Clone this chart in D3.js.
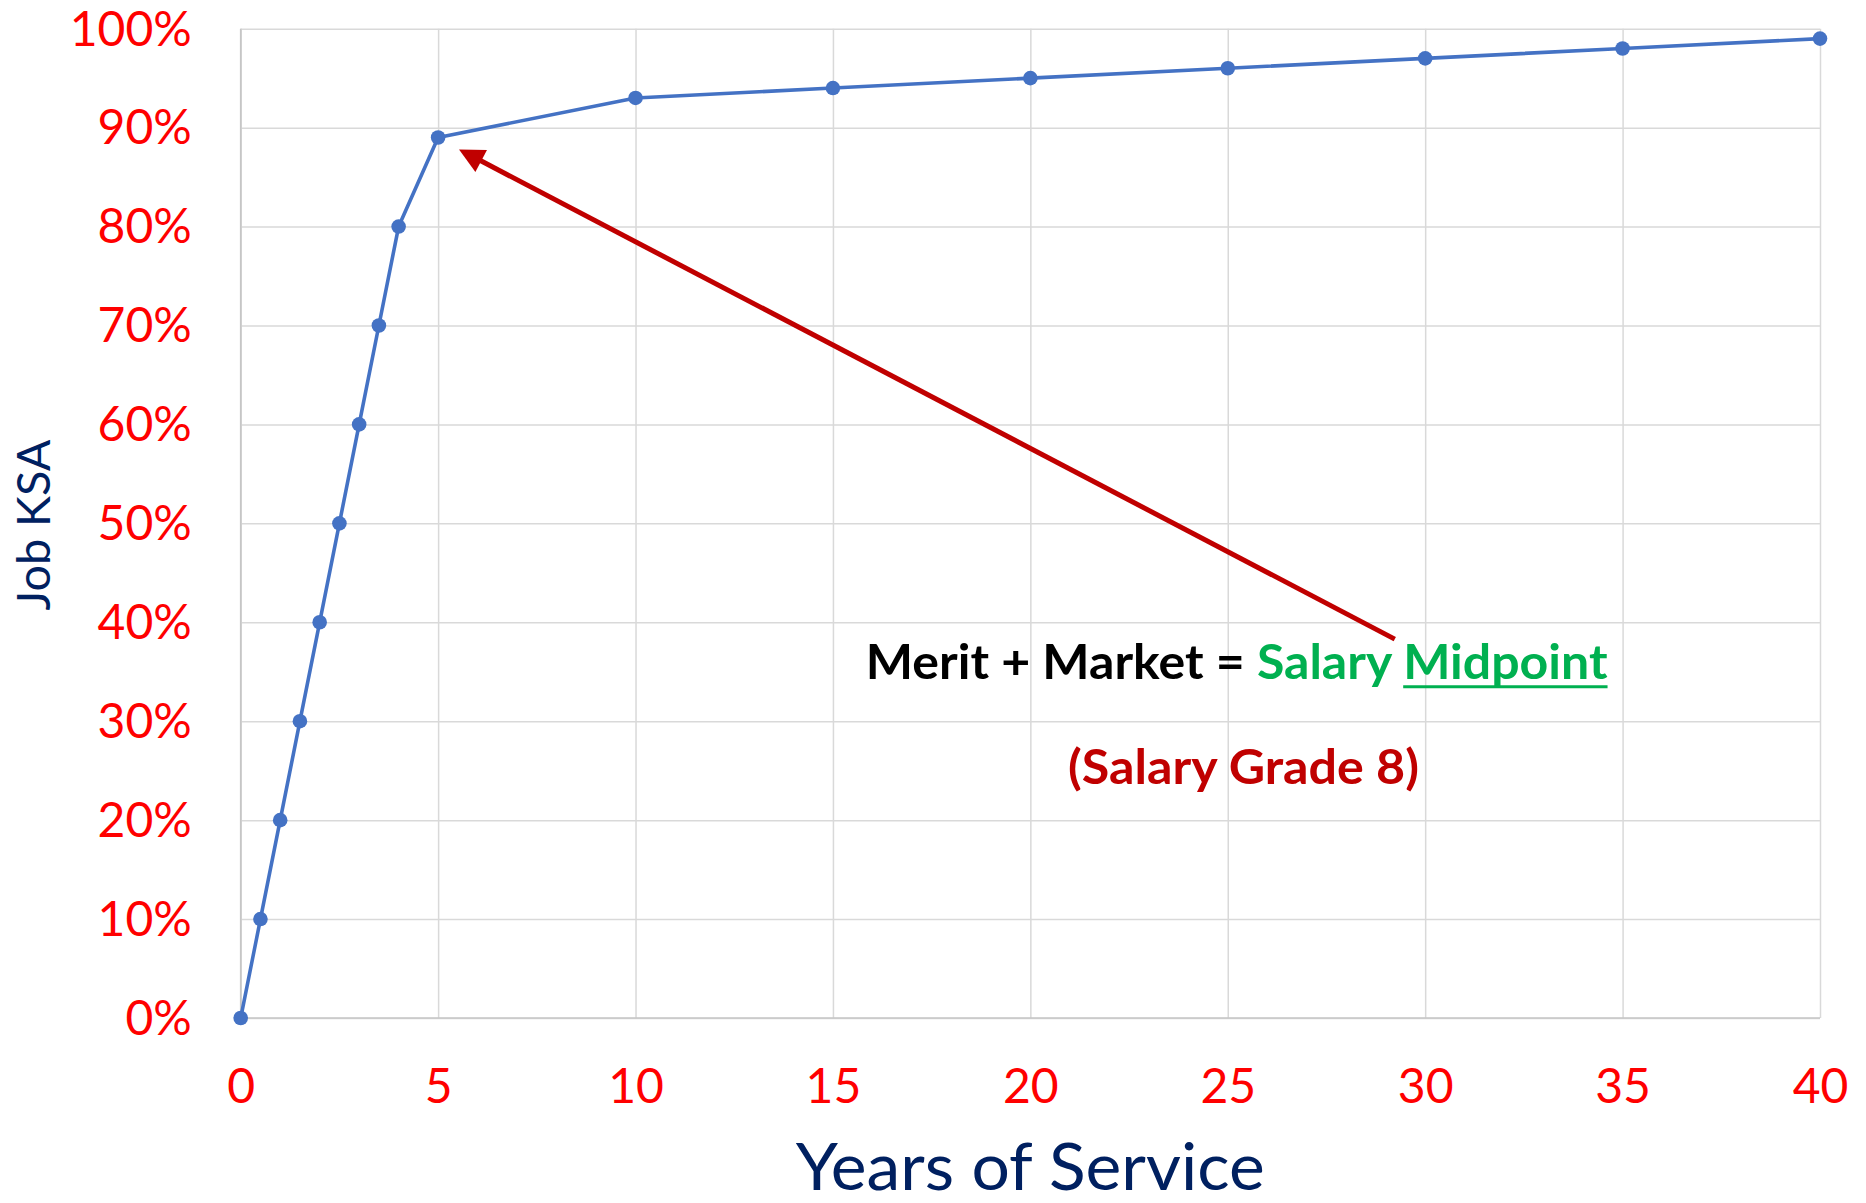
<!DOCTYPE html>
<html>
<head>
<meta charset="utf-8">
<script src="https://cdn.jsdelivr.net/npm/d3@7"></script>
<style>
  html, body { margin: 0; padding: 0; background: #ffffff; }
  svg { display: block; }
</style>
</head>
<body>
<svg id="chart" width="1866" height="1203"></svg>
<script>
// ---- Data ----
const years    = [0, 0.5, 1, 1.5, 2, 2.5, 3, 3.5, 4, 5, 10, 15, 20, 25, 30, 35, 40];
const jobKSA   = [0, 0.10, 0.20, 0.30, 0.40, 0.50, 0.60, 0.70, 0.80, 0.89, 0.93, 0.94, 0.95, 0.96, 0.97, 0.98, 0.99];
const xTicks   = [0, 5, 10, 15, 20, 25, 30, 35, 40];
const yTicks   = [0, 0.1, 0.2, 0.3, 0.4, 0.5, 0.6, 0.7, 0.8, 0.9, 1.0];
const xTitle   = "Years of Service";
const yTitle   = "Job KSA";
// annotation (data coordinates)
const arrowFrom = [29.23, 0.383];
const arrowTo   = [5.53, 0.878];
const noteLine1 = [
  { text: "Merit + Market = ", color: "#000000" },
  { text: "Salary ", color: "#00b050" },
  { text: "Midpoint", color: "#00b050", underline: true }
];
const noteLine1Pos = [25.23, 0.3424];
const noteLine2 = [{ text: "(Salary Grade 8)", color: "#c00000" }];
const noteLine2Pos = [25.4, 0.2365];

// ---- Layout ----
const W = 1866, H = 1203;
const margin = { left: 240.7, right: W - 1820, top: 28.7, bottom: H - 1018 };
const iw = W - margin.left - margin.right;
const ih = H - margin.top - margin.bottom;
const FONT = "Lato, 'Noto Sans', 'DejaVu Sans', sans-serif";

const svg = d3.select("#chart");
const g = svg.append("g").attr("transform", `translate(${margin.left},${margin.top})`);

const x = d3.scaleLinear().domain([0, 40]).range([0, iw]);
const y = d3.scaleLinear().domain([0, 1]).range([ih, 0]);

// ---- Gridlines + axes ----
const yAxis = d3.axisLeft(y).tickValues(yTicks).tickFormat(d3.format(".0%"))
  .tickSize(-iw).tickPadding(49);
const yg = g.append("g").call(yAxis);
yg.select(".domain").remove();
yg.selectAll(".tick line").attr("stroke", "#d9d9d9").attr("stroke-width", 1.5);
yg.selectAll(".tick text")
  .attr("fill", "#ff0000").attr("font-family", FONT).attr("font-size", 48)
  .attr("dy", "0.34em");

const xAxis = d3.axisBottom(x).tickValues(xTicks).tickFormat(d3.format("d"))
  .tickSize(-ih).tickPadding(0);
const xg = g.append("g").attr("transform", `translate(0,${ih})`).call(xAxis);
xg.select(".domain").remove();
xg.selectAll(".tick line").attr("stroke", "#d9d9d9").attr("stroke-width", 1.5);
xg.selectAll(".tick text")
  .attr("fill", "#ff0000").attr("font-family", FONT).attr("font-size", 48)
  .attr("y", 85).attr("dy", 0);

// axis lines (left & bottom)
g.append("line").attr("x1", 0).attr("x2", 0).attr("y1", 0).attr("y2", ih)
  .attr("stroke", "#c6c6c6").attr("stroke-width", 1.6);
g.append("line").attr("x1", 0).attr("x2", iw).attr("y1", ih).attr("y2", ih)
  .attr("stroke", "#c6c6c6").attr("stroke-width", 1.6);

// ---- Series ----
const pts = years.map((d, i) => [d, jobKSA[i]]);
g.append("path").datum(pts)
  .attr("fill", "none").attr("stroke", "#4472c4").attr("stroke-width", 3.6)
  .attr("stroke-linejoin", "round")
  .attr("d", d3.line().x(d => x(d[0])).y(d => y(d[1])));
g.selectAll("circle.pt").data(pts).join("circle").attr("class", "pt")
  .attr("cx", d => x(d[0])).attr("cy", d => y(d[1])).attr("r", 7.3)
  .attr("fill", "#4472c4");

// ---- Helper: fit text to width ----
function fitText(parent, parts, cx, cy, angle, fontSize, weight, targetW, color) {
  const outer = parent.append("g").attr("transform", `translate(${cx},${cy}) rotate(${angle})`);
  const inner = outer.append("g");
  const t = inner.append("text").attr("x", 0).attr("y", 0)
    .attr("font-family", FONT).attr("font-size", fontSize).attr("font-weight", weight)
    .attr("fill", color || "#000");
  parts.forEach(p => t.append("tspan").text(p.text).attr("fill", p.color || color));
  const w = t.node().getComputedTextLength();
  const s = targetW / w;
  inner.attr("transform", `translate(${-targetW / 2},0) scale(${s},1)`);
  // underline
  let idx = 0;
  parts.forEach(p => {
    if (p.underline) {
      const n = t.node();
      const x0 = n.getStartPositionOfChar(idx).x;
      const x1 = n.getEndPositionOfChar(idx + p.text.length - 1).x;
      inner.append("line").attr("x1", x0).attr("x2", x1)
        .attr("y1", fontSize * 0.155).attr("y2", fontSize * 0.155)
        .attr("stroke", p.color).attr("stroke-width", 3);
    }
    idx += p.text.length;
  });
  return outer;
}

// ---- Axis titles ----
fitText(svg, [{ text: xTitle }], margin.left + iw / 2, 1190, 0, 65, 400, 469, "#002060");
fitText(svg, [{ text: yTitle }], 50, 525, -90, 46, 400, 171, "#002060");

// ---- Annotation arrow ----
const ax0 = x(arrowFrom[0]), ay0 = y(arrowFrom[1]);
const ax1 = x(arrowTo[0]), ay1 = y(arrowTo[1]);
const len = Math.hypot(ax1 - ax0, ay1 - ay0);
const ux = (ax1 - ax0) / len, uy = (ay1 - ay0) / len;
const headL = 25, headW = 25;
const bx = ax1 - ux * headL, by = ay1 - uy * headL;
g.append("line").attr("x1", ax0).attr("y1", ay0).attr("x2", bx + ux * 2).attr("y2", by + uy * 2)
  .attr("stroke", "#c00000").attr("stroke-width", 5);
g.append("path")
  .attr("d", `M${ax1},${ay1}L${bx - uy * headW / 2},${by + ux * headW / 2}L${bx + uy * headW / 2},${by - ux * headW / 2}Z`)
  .attr("fill", "#c00000");

// ---- Annotation text ----
fitText(g, noteLine1, x(noteLine1Pos[0]), y(noteLine1Pos[1]), 0, 48, 700, 742, "#000");
fitText(g, noteLine2, x(noteLine2Pos[0]), y(noteLine2Pos[1]), 0, 48, 700, 351, "#c00000");
</script>
</body>
</html>
